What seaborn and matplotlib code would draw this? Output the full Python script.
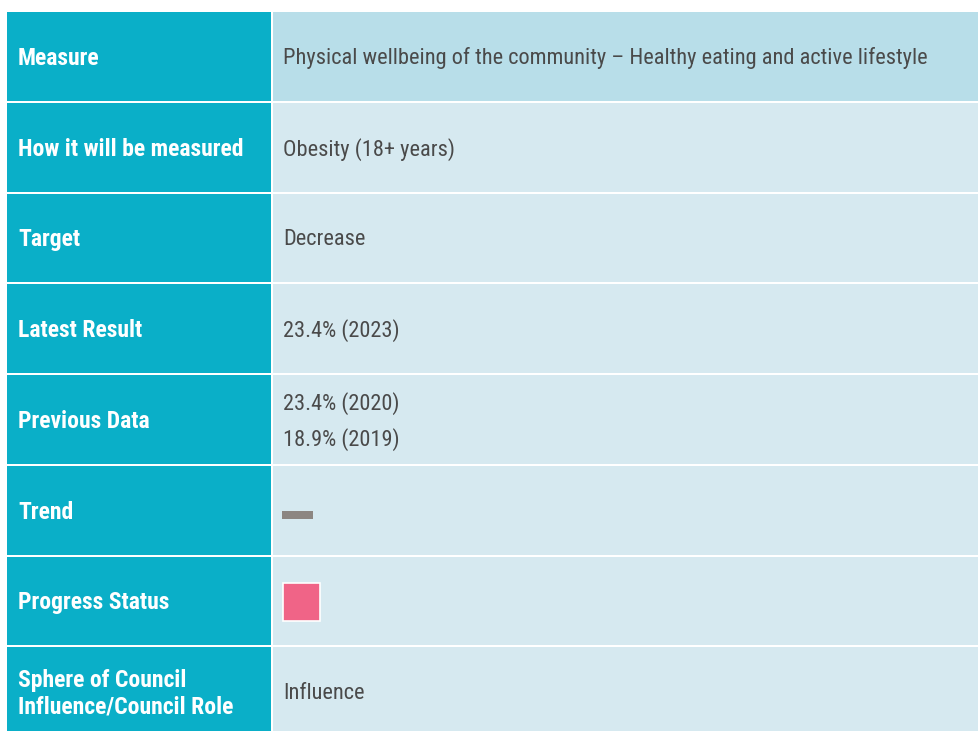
import matplotlib
matplotlib.use("Agg")
import matplotlib.pyplot as plt
import seaborn as sns
from matplotlib.font_manager import fontManager

# Table content
row_labels = [
    "Measure",
    "How it will be measured",
    "Target",
    "Latest Result",
    "Previous Data",
    "Trend",
    "Progress Status",
    "Sphere of Council\nInfluence/Council Role",
]
row_values = [
    "Physical wellbeing of the community \u2013 Healthy eating and active lifestyle",
    "Obesity (18+ years)",
    "Decrease",
    "23.4% (2023)",
    "23.4% (2020)\n18.9% (2019)",
    "",
    "",
    "Influence",
]
trend_row = 5
status_row = 6

# Colours
label_bg = "#0AAFC8"
header_bg = "#B8DEE9"
value_bg = "#D6E9F0"
value_text = "#4A4A4A"
trend_color = "#8C8682"
status_color = "#F06487"

sns.set_theme(style="white")
names = {f.name for f in fontManager.ttflist}
narrow = [f for f in ["Liberation Sans Narrow", "Roboto Condensed", "DejaVu Sans"] if f in names]
plt.rcParams["font.family"] = narrow

fig = plt.figure(figsize=(9.79, 7.31), dpi=100)
ax = fig.add_axes([0, 0, 1, 1])
ax.set_xlim(0, 979)
ax.set_ylim(731, 0)
ax.axis("off")

top = 11
row_h = 90.75
gap = 2
left_x0, left_x1 = 7, 271
right_x0, right_x1 = 273, 985

rows = list(range(len(row_labels)))
centers = [top + (i + 0.5) * row_h for i in rows]

# cells drawn as horizontal bars, one per row
ax.barh(centers, left_x1 - left_x0, left=left_x0, height=row_h - gap,
        color=label_bg, linewidth=0)
ax.barh(centers, right_x1 - right_x0, left=right_x0, height=row_h - gap,
        color=[header_bg] + [value_bg] * (len(rows) - 1), linewidth=0)

for i in rows:
    ax.text(18, centers[i] + 2, row_labels[i], color="white", fontsize=17,
            fontweight="bold", va="center", ha="left", linespacing=1.2)
    if row_values[i]:
        ax.text(283, centers[i] + 2, row_values[i], color=value_text, fontsize=16.1,
                va="center", ha="left", linespacing=1.7)

# trend marker: flat dash
ax.barh([centers[trend_row] + 5], 31, left=282, height=7.5,
        color=trend_color, linewidth=0)
# progress status square
ax.barh([centers[status_row] + 1], 37.5, left=283, height=37.5,
        color=status_color, edgecolor="white", linewidth=1.2)

fig.savefig("out.png", dpi=100)
